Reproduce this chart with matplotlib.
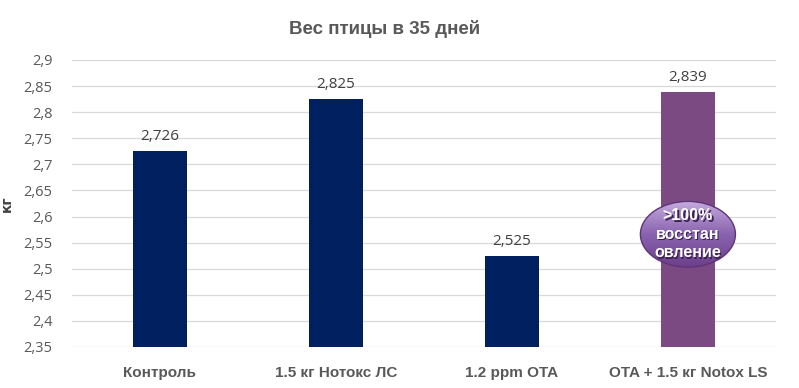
import matplotlib
matplotlib.use("Agg")
import matplotlib.pyplot as plt
import numpy as np
from matplotlib.patches import Ellipse
from matplotlib.colors import LinearSegmentedColormap
from matplotlib.ticker import FuncFormatter

categories = ["Контроль", "1.5 кг Нотокс ЛС", "1.2 ppm OTA", "OTA + 1.5 кг Notox LS"]
weights = [2.726, 2.825, 2.525, 2.839]
bar_colors = ["#002060", "#002060", "#002060", "#7B4A82"]
value_labels = ["2,726", "2,825", "2,525", "2,839"]
yticks = [2.35, 2.4, 2.45, 2.5, 2.55, 2.6, 2.65, 2.7, 2.75, 2.8, 2.85, 2.9]
badge_text = ">100%\nвосстан\nовление"

narrow = ["Liberation Sans Narrow", "Liberation Sans", "DejaVu Sans"]
grey = "#595959"

fig = plt.figure(figsize=(7.99, 3.88), dpi=100, facecolor="white")
ax = fig.add_axes([0.0901, 0.1057, 0.881, 0.7397])

x = np.arange(len(categories))
ax.bar(x, [w - 2.35 for w in weights], bottom=2.35, width=0.31,
       color=bar_colors, zorder=3)
ax.set_yticks(yticks)
ax.yaxis.set_major_formatter(FuncFormatter(lambda v, _: f"{v:.2f}".rstrip("0").replace(".", ",")))
ax.grid(axis="y", color="#D9D9D9", linewidth=0.9, zorder=0)
for s in ax.spines.values():
    s.set_visible(False)
ax.tick_params(axis="y", length=0, pad=14, labelsize=10.5, labelcolor=grey)
ax.tick_params(axis="x", length=0, pad=14)
ax.set_xticks(x)
ax.set_xticklabels(categories, fontsize=11, fontweight="bold", color=grey, family=narrow)
for lab in ax.get_yticklabels():
    lab.set_family(["Open Sans", "DejaVu Sans"])

for xi, w, t in zip(x, weights, value_labels):
    ax.annotate(t, (xi, w), xytext=(0, 5), textcoords="offset points",
                ha="center", va="bottom", fontsize=11, color="#404040",
                family=["Open Sans", "DejaVu Sans"])

ax.set_ylabel("кг", fontsize=10, fontweight="bold", color="#404040")
ax.yaxis.set_label_coords(-0.082, 0.5)

fig.text(0.481, 0.925, "Вес птицы в 35 дней", ha="center", va="center",
         fontsize=13.5, fontweight="bold", color=grey, family=narrow)

# badge over the last bar
bx, by, bw, bh = x[-1], 2.566, 0.54, 0.126
ax.add_patch(Ellipse((bx, by), bw, bh, facecolor="none", edgecolor="#5E3478",
                     linewidth=1.0, zorder=6))
gy = np.linspace(0, 1, 200)[:, None] * np.ones((1, 2))
cmap = LinearSegmentedColormap.from_list("badge", ["#6B3F8C", "#8A63AE", "#C4ABDE"])
img = ax.imshow(gy, cmap=cmap, extent=(bx - bw / 2, bx + bw / 2, by - bh / 2, by + bh / 2),
                origin="lower", aspect="auto", zorder=5)
img.set_clip_path(Ellipse((bx, by), bw, bh, transform=ax.transData))
ax.set_xlim(-0.5, len(categories) - 0.5)
ax.set_ylim(2.35, 2.9)
for dx, dy, col, z in [(0.006, -0.003, "#3A2050", 7), (0, 0, "white", 8)]:
    ax.text(bx + dx, by + dy, badge_text, ha="center", va="center", fontsize=11.5,
            fontweight="bold", color=col, linespacing=1.3, zorder=z,
            family=["Liberation Sans", "DejaVu Sans"])

fig.savefig("out.png", dpi=100, facecolor="white")
